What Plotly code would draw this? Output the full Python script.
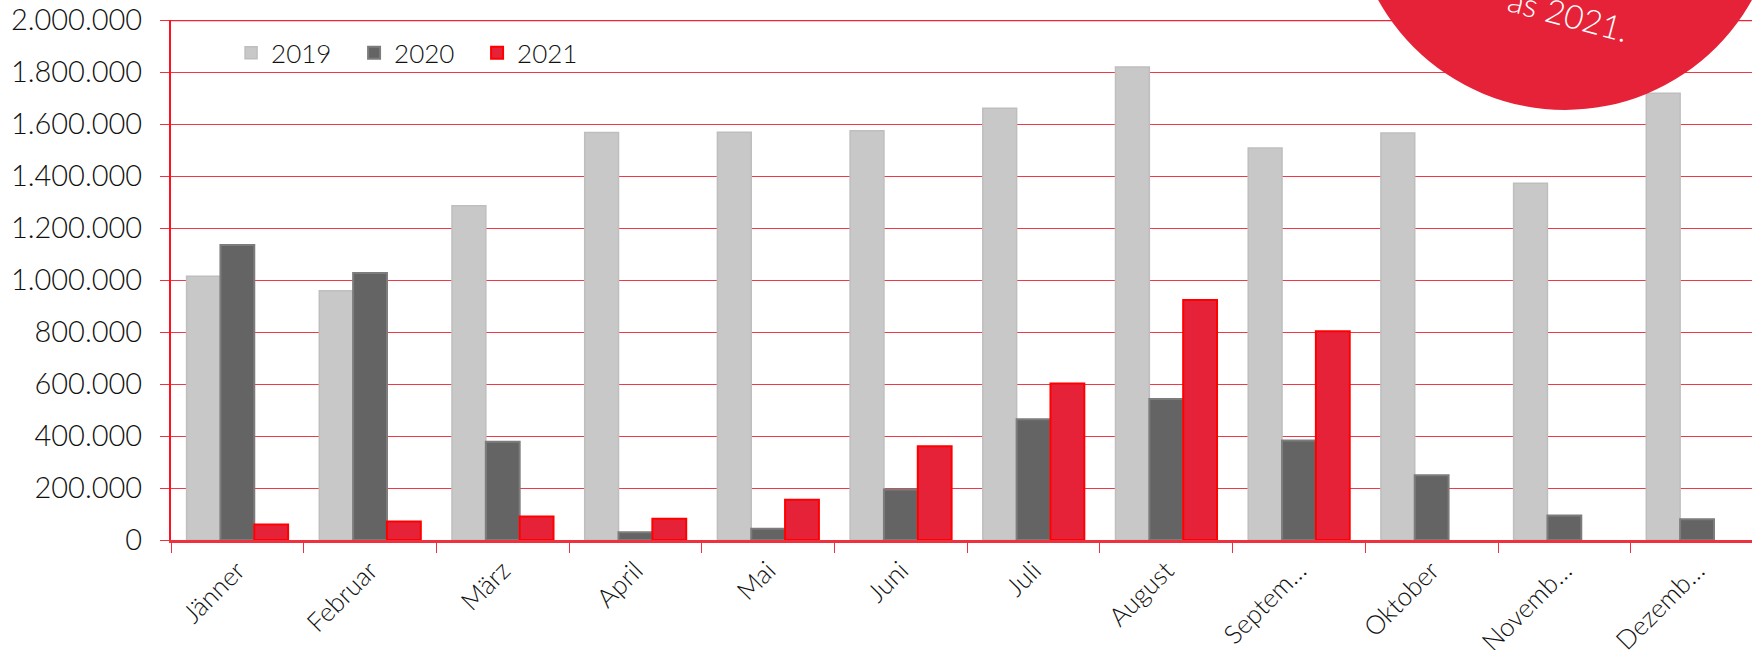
import plotly.graph_objects as go

months = ["Jänner", "Februar", "März", "April", "Mai", "Juni", "Juli",
          "August", "Septem…", "Oktober", "Novemb…", "Dezemb…"]
v2019 = [1014000, 959000, 1286000, 1567000, 1568000, 1574000, 1661000,
         1819000, 1508000, 1565000, 1372000, 1718000]
v2020 = [1135000, 1027000, 378000, 30000, 43000, 194000, 464000,
         542000, 383000, 249000, 94000, 80000]
v2021 = [60000, 71000, 90000, 82000, 155000, 361000, 602000,
         923000, 803000, None, None, None]
ytick_vals = [0, 200000, 400000, 600000, 800000, 1000000, 1200000,
              1400000, 1600000, 1800000, 2000000]

FONT = "Lato"
RED = "#E62238"
TXT = "#111111"

fig = go.Figure()
fig.add_bar(name="2019", x=months, y=v2019, marker=dict(color="#C8C8C8", line=dict(color="#BEBEBE", width=1.5)))
fig.add_bar(name="2020", x=months, y=v2020, marker=dict(color="#646464", line=dict(color="#7C7C7C", width=2)))
fig.add_bar(name="2021", x=months, y=v2021, marker=dict(color=RED, line=dict(color="#FF0000", width=2)))

fig.update_layout(
    width=1752, height=650,
    margin=dict(l=171, r=0, t=20, b=110, autoexpand=False),
    paper_bgcolor="white", plot_bgcolor="white",
    barmode="group", bargap=0.235, bargroupgap=0,
    separators=",.",
    font=dict(family=FONT, size=26, color=TXT, weight=300),
    showlegend=True,
    legend=dict(orientation="h", x=0.038, y=0.937, xanchor="left", yanchor="middle",
                bgcolor="rgba(0,0,0,0)", font=dict(size=26, weight=300, color=TXT), entrywidth=78,
                traceorder="normal"),
    xaxis=dict(type="category", range=[-0.5, 11.414], tickson="boundaries",
               ticks="outside", ticklen=10, tickcolor="#F03040", tickwidth=1,
               showline=True, linecolor="#F0303F", linewidth=3,
               tickangle=-45, tickfont=dict(size=26, weight=300, color=TXT), showgrid=False,
               ticklabelstandoff=2),
    yaxis=dict(range=[0, 2000000], tickvals=ytick_vals, tickformat=",d",
               showgrid=True, gridcolor="#EC3A48", gridwidth=1,
               zeroline=False, showline=True, linecolor="#FF1020", linewidth=2,
               ticks="outside", ticklen=9, tickcolor="#F03040", tickwidth=1,
               tickfont=dict(size=29, weight=300, color=TXT), ticklabelstandoff=12),
)

# top border line at 2.000.000
fig.add_shape(type="line", xref="paper", yref="y", x0=0, x1=1, y0=2000000, y1=2000000,
              line=dict(color="#EE2436", width=2.5), layer="above")

# red circle top-right
fig.add_shape(type="circle", xref="paper", yref="paper",
              x0=0.7464, x1=1.0171, y0=0.827, y1=1.6511,
              fillcolor=RED, line=dict(width=0), layer="above")
fig.add_annotation(xref="paper", yref="paper", x=0.884, y=1.012, text="as 2021.",
                   xanchor="center", yanchor="middle",
                   showarrow=False, textangle=15,
                   font=dict(family=FONT, size=33, color="white", weight=300))

fig.write_html("out.html", config={"displayModeBar": False},
               post_script="document.body.style.margin='0';")
